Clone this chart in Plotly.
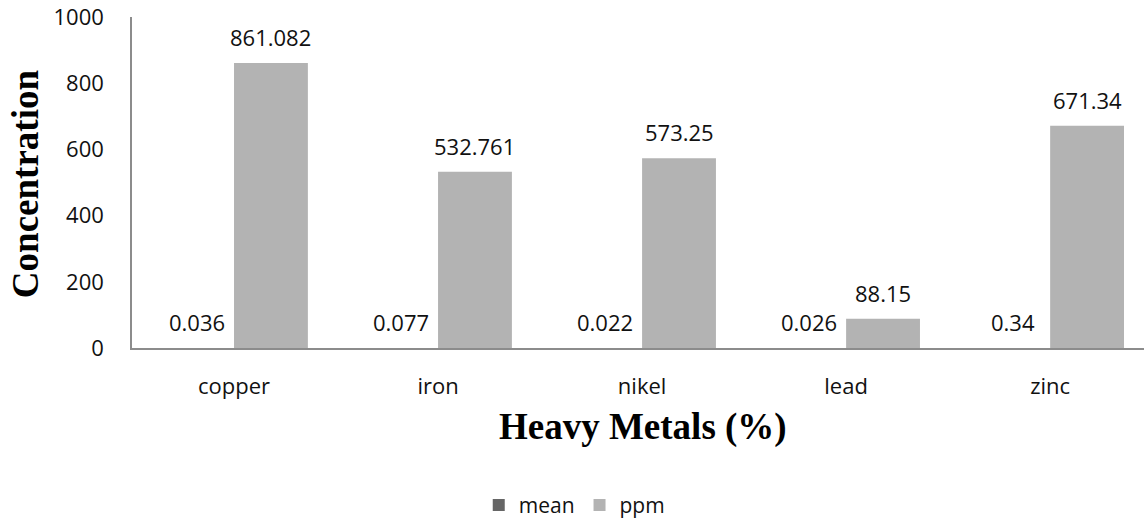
import plotly.graph_objects as go

categories = ["copper", "iron", "nikel", "lead", "zinc"]
mean_vals = [0.036, 0.077, 0.022, 0.026, 0.34]
ppm_vals = [861.082, 532.761, 573.25, 88.15, 671.34]
mean_labels = ["0.036", "0.077", "0.022", "0.026", "0.34"]
ppm_labels = ["861.082", "532.761", "573.25", "88.15", "671.34"]
y_ticks = [0, 200, 400, 600, 800, 1000]

FONT = "Open Sans"
off = 0.181
bw = 0.362
xs = list(range(len(categories)))

fig = go.Figure()
fig.add_trace(go.Bar(
    x=[i - off for i in xs], y=mean_vals, width=bw, name="mean",
    marker=dict(color="#666666", line=dict(width=0)),
    selectedpoints=[], unselected=dict(marker=dict(opacity=0)),
))
fig.add_trace(go.Bar(
    x=[i + off for i in xs], y=ppm_vals, width=bw, name="ppm",
    marker=dict(color="#b3b3b3", line=dict(width=0)),
))

annotations = []
for i in xs:
    annotations.append(dict(x=i - off, y=mean_vals[i], xref="x", yref="y",
                            text=mean_labels[i], showarrow=False,
                            yanchor="middle", yshift=26,
                            font=dict(family=FONT, size=22, color="#111111")))
    annotations.append(dict(x=i + off, y=ppm_vals[i], xref="x", yref="y",
                            text=ppm_labels[i], showarrow=False,
                            yanchor="middle", yshift=26,
                            font=dict(family=FONT, size=22, color="#111111")))

annotations.append(dict(x=0.505, y=0, xref="paper", yref="paper",
                        text="<b>Heavy Metals (%)</b>", showarrow=False,
                        yanchor="middle", yshift=-79,
                        font=dict(family="Liberation Serif", size=37, color="#000000")))
annotations.append(dict(x=0, y=0.495, xref="paper", yref="paper",
                        text="<b>Concentration</b>", showarrow=False, textangle=-90,
                        xanchor="center", yanchor="middle", xshift=-107,
                        font=dict(family="Liberation Serif", size=37, color="#000000")))

fig.update_layout(
    width=1144, height=521,
    margin=dict(l=132, r=0, t=17, b=173),
    paper_bgcolor="white", plot_bgcolor="white",
    barmode="overlay",
    showlegend=True,
    legend=dict(orientation="h", x=0.437, xanchor="center",
                yref="container", y=0.03, yanchor="middle",
                font=dict(family=FONT, size=21, color="#111111"),
                itemwidth=30, traceorder="normal"),
    annotations=annotations,
    xaxis=dict(range=[-0.5, 4.46], tickmode="array", tickvals=xs, ticktext=categories,
               showgrid=False, zeroline=False, showline=True, linecolor="#8c8c8c", linewidth=1.5,
               ticks="", ticklabelstandoff=18,
               tickfont=dict(family=FONT, size=22, color="#111111")),
    yaxis=dict(range=[0, 1000], tickmode="array", tickvals=y_ticks,
               showgrid=False, zeroline=False, showline=True, linecolor="#8c8c8c", linewidth=1.5,
               ticks="", ticklabelstandoff=22,
               tickfont=dict(family=FONT, size=22, color="#111111")),
)

fig.write_html("out.html", config={"displayModeBar": False},
               post_script="document.body.style.margin='0';")
